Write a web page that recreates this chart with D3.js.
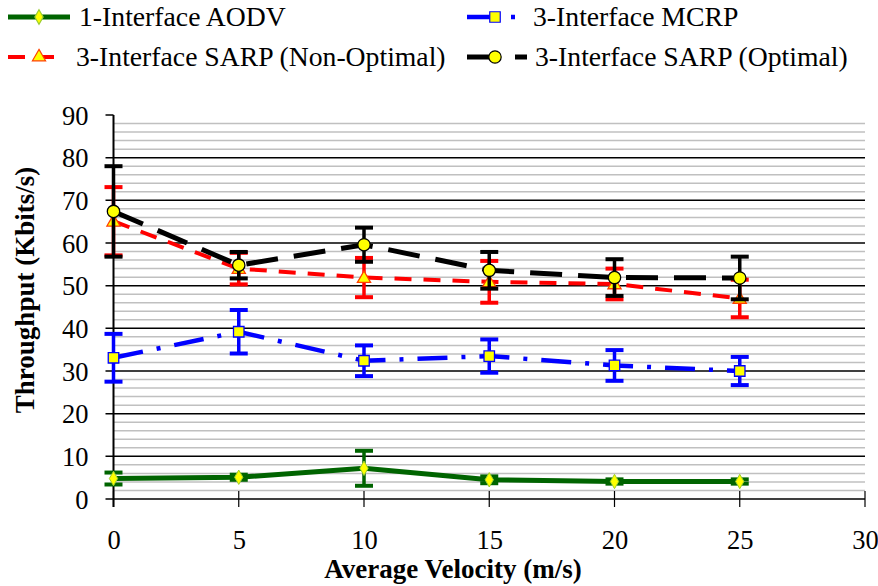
<!DOCTYPE html>
<html>
<head>
<meta charset="utf-8">
<script src="https://cdn.jsdelivr.net/npm/d3@7/dist/d3.min.js"></script>
<style>
  html, body { margin: 0; padding: 0; background: #fff; }
  svg { display: block; }
  svg text { font-family: "Liberation Serif" !important; }
</style>
</head>
<body>
<svg id="chart" width="878" height="586" font-family="Liberation Serif"></svg>
<script>
// Average velocity (m/s) on the x axis
const velocity = [0, 5, 10, 15, 20, 25];

// Throughput (Kbits/s) per protocol, with error half-widths
const aodv      = [4.8, 5.1, 7.2, 4.5, 4.1, 4.1];
const aodvErr   = [1.4, 0.6, 4.1, 0.8, 0.5, 0.5];
const mcrp      = [33.1, 39.2, 32.4, 33.5, 31.3, 30.0];
const mcrpErr   = [5.6, 5.1, 3.6, 3.9, 3.6, 3.3];
const sarpNon   = [65.1, 54.0, 51.9, 50.9, 50.4, 47.0];
const sarpNonErr= [8.0, 3.7, 4.6, 4.9, 3.6, 4.4];
const sarpOpt   = [67.4, 54.8, 59.6, 53.6, 51.9, 51.8];
const sarpOptErr= [10.6, 3.1, 4.0, 4.3, 4.3, 5.0];

const seriesNames = [
  "1-Interface AODV",
  "3-Interface MCRP",
  "3-Interface SARP (Non-Optimal)",
  "3-Interface SARP (Optimal)"
];

const xTicks = [0, 5, 10, 15, 20, 25, 30];
const yTicks = [0, 10, 20, 30, 40, 50, 60, 70, 80, 90];
const yMinor = d3.range(2, 90, 2).filter(v => v % 10 !== 0);

const svg = d3.select("#chart");
const x = d3.scaleLinear().domain([0, 30]).range([113.5, 865]);
const y = d3.scaleLinear().domain([0, 90]).range([499, 115]);

// Minor grey gridlines
svg.append("g").selectAll("line").data(yMinor).join("line")
  .attr("x1", x(0)).attr("x2", x(30))
  .attr("y1", d => y(d)).attr("y2", d => y(d))
  .attr("stroke", "#c0c0c0").attr("stroke-width", 1.5);

// Major black gridlines (10..80) and ticks
svg.append("g").selectAll("line").data(yTicks.filter(v => v > 0 && v < 90)).join("line")
  .attr("x1", x(0) - 8).attr("x2", x(30))
  .attr("y1", d => y(d)).attr("y2", d => y(d))
  .attr("stroke", "#000").attr("stroke-width", 1.5);
svg.append("line")
  .attr("x1", x(0) - 8).attr("x2", x(0))
  .attr("y1", y(90)).attr("y2", y(90))
  .attr("stroke", "#000").attr("stroke-width", 1.5);

// Y axis labels via d3.axisLeft (lines drawn separately)
const yAxis = svg.append("g")
  .attr("transform", `translate(${x(0)},0)`)
  .call(d3.axisLeft(y).tickValues(yTicks).tickSize(0).tickPadding(25));
yAxis.attr("font-family", "Liberation Serif").attr("font-size", 26.5);
yAxis.select(".domain").remove();
yAxis.selectAll("text")
  .attr("fill", "#000")
  .attr("dy", "0.34em");

// X axis
svg.append("line")
  .attr("x1", x(0) - 8).attr("x2", x(30))
  .attr("y1", y(0)).attr("y2", y(0))
  .attr("stroke", "#000").attr("stroke-width", 1.5);
const xAxis = svg.append("g")
  .attr("transform", `translate(0,${y(0)})`)
  .call(d3.axisBottom(x).tickValues(xTicks).tickSize(0).tickPadding(31));
xAxis.attr("font-family", "Liberation Serif").attr("font-size", 26.5);
xAxis.select(".domain").remove();
xAxis.selectAll("text").attr("fill", "#000");
svg.append("g").selectAll("line").data(xTicks).join("line")
  .attr("x1", d => x(d)).attr("x2", d => x(d))
  .attr("y1", y(0) - 8).attr("y2", y(0) + 8)
  .attr("stroke", "#000").attr("stroke-width", 1.2);

// Y axis line
svg.append("line")
  .attr("x1", x(0)).attr("x2", x(0))
  .attr("y1", y(90)).attr("y2", y(0) + 8)
  .attr("stroke", "#000").attr("stroke-width", 2);

// Axis titles
svg.append("text")
  .attr("transform", "translate(34,290) rotate(-90)")
  .attr("text-anchor", "middle")
  .attr("font-family", "Liberation Serif")
  .attr("font-size", 27).attr("font-weight", "bold")
  .text("Throughput (Kbits/s)");
svg.append("text")
  .attr("x", 453).attr("y", 578)
  .attr("text-anchor", "middle")
  .attr("font-family", "Liberation Serif")
  .attr("font-size", 27).attr("font-weight", "bold")
  .text("Average Velocity (m/s)");

// Series definitions
const series = [
  { name: seriesNames[0], vals: aodv, errs: aodvErr, color: "#006400", width: 5, dash: null, marker: "diamond", mstroke: "#9acd32" },
  { name: seriesNames[1], vals: mcrp, errs: mcrpErr, color: "#0000ff", width: 4.5, dash: "30,14,4,14", marker: "square", mstroke: "#0000ff" },
  { name: seriesNames[2], vals: sarpNon, errs: sarpNonErr, color: "#ff0000", width: 4, dash: "17,12", marker: "triangle", mstroke: "#ff4000" },
  { name: seriesNames[3], vals: sarpOpt, errs: sarpOptErr, color: "#000000", width: 5, dash: "32,16", marker: "circle", mstroke: "#000000" }
];

const symbolFor = {
  diamond: d3.symbol().type(d3.symbolDiamond).size(60),
  square: d3.symbol().type(d3.symbolSquare).size(110),
  triangle: d3.symbol().type(d3.symbolTriangle).size(75),
  circle: d3.symbol().type(d3.symbolCircle).size(120)
};

const line = d3.line().x(d => x(d[0])).y(d => y(d[1]));

series.forEach(s => {
  const g = svg.append("g");
  const pts = velocity.map((v, i) => [v, s.vals[i], s.errs[i]]);
  // error bars
  g.selectAll(".stem").data(pts).join("line")
    .attr("x1", d => x(d[0])).attr("x2", d => x(d[0]))
    .attr("y1", d => y(d[1] + d[2])).attr("y2", d => y(d[1] - d[2]))
    .attr("stroke", s.color).attr("stroke-width", 3.5);
  g.selectAll(".capT").data(pts).join("line")
    .attr("x1", d => x(d[0]) - 9).attr("x2", d => x(d[0]) + 9)
    .attr("y1", d => y(d[1] + d[2])).attr("y2", d => y(d[1] + d[2]))
    .attr("stroke", s.color).attr("stroke-width", 4);
  g.selectAll(".capB").data(pts).join("line")
    .attr("x1", d => x(d[0]) - 9).attr("x2", d => x(d[0]) + 9)
    .attr("y1", d => y(d[1] - d[2])).attr("y2", d => y(d[1] - d[2]))
    .attr("stroke", s.color).attr("stroke-width", 4);
  // series line
  g.append("path").datum(pts)
    .attr("d", line)
    .attr("fill", "none")
    .attr("stroke", s.color)
    .attr("stroke-width", s.width)
    .attr("stroke-dasharray", s.dash);
  // markers
  g.selectAll(".mk").data(pts).join("path")
    .attr("transform", d => `translate(${x(d[0])},${y(d[1]) + (s.marker === "triangle" ? 1 : 0)})`)
    .attr("d", symbolFor[s.marker]())
    .attr("fill", "#ffff00")
    .attr("stroke", s.mstroke)
    .attr("stroke-width", s.marker === "diamond" ? 1 : 1.3);
});

// Legend
const legendItems = [
  { s: series[0], x0: 8, x1: 70, mx: 39, tx: 79, y: 17 },
  { s: series[1], x0: 467, x1: 516, mx: 495, tx: 533, y: 17 },
  { s: series[2], x0: 8, x1: 56, mx: 39, tx: 76, y: 57 },
  { s: series[3], x0: 467, x1: 527, mx: 495, tx: 535, y: 57 }
];
const lg = svg.append("g");
legendItems.forEach(it => {
  lg.append("line")
    .attr("x1", it.x0).attr("x2", it.x1)
    .attr("y1", it.y).attr("y2", it.y)
    .attr("stroke", it.s.color).attr("stroke-width", it.s.width)
    .attr("stroke-dasharray", it.s.dash);
  lg.append("path")
    .attr("transform", `translate(${it.mx},${it.y})`)
    .attr("d", symbolFor[it.s.marker]())
    .attr("fill", "#ffff00")
    .attr("stroke", it.s.mstroke)
    .attr("stroke-width", 1.2);
  lg.append("text")
    .attr("x", it.tx).attr("y", it.y + 9)
    .attr("font-family", "Liberation Serif")
    .attr("font-size", 27.7)
    .text(it.s.name);
});
</script>
</body>
</html>
